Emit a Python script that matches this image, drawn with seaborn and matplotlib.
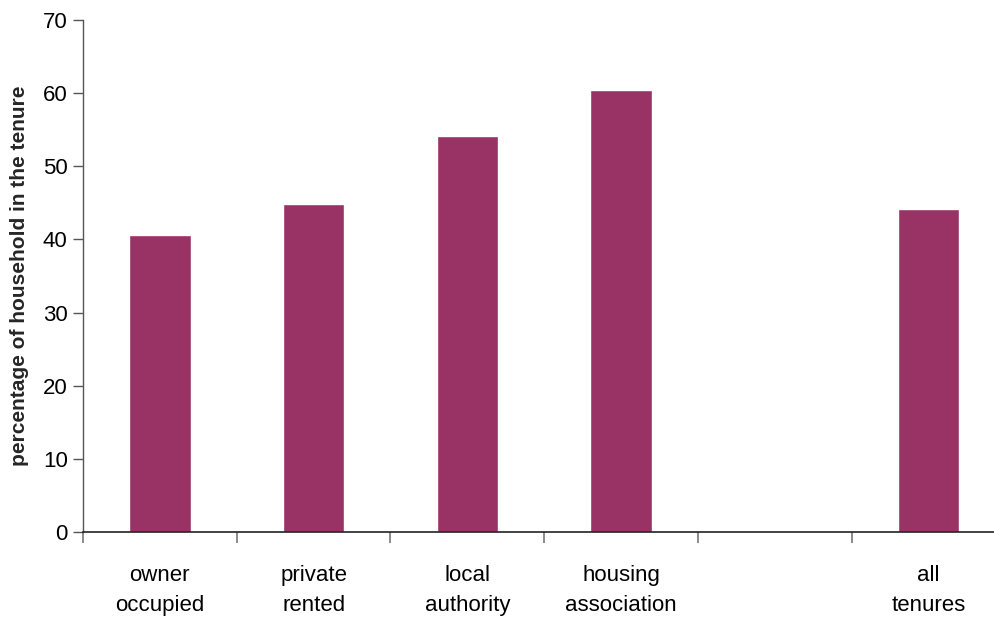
import numpy as np
import pandas as pd
import seaborn as sns
import matplotlib.pyplot as plt
from matplotlib.ticker import FixedLocator

sns.set_style('white')
plt.rcParams['font.family'] = ['Liberation Sans Narrow', 'Liberation Sans', 'DejaVu Sans']

tenures = ['owner\noccupied', 'private\nrented', 'local\nauthority', 'housing\nassociation', ' ', 'all\ntenures']
percent = [40.6, 44.8, 54.1, 60.4, np.nan, 44.2]

df = pd.DataFrame({'tenure': tenures, 'pct': percent})

fig = plt.figure(figsize=(9.95, 6.19), dpi=100)
ax = fig.add_axes([0.0834, 0.1405, 0.927, 0.8272])

sns.barplot(data=df, x='tenure', y='pct', order=tenures, color='#993366',
            saturation=1, width=0.4, ax=ax)

ax.set_xlim(-0.5, 5.5)
ax.set_ylim(0, 70)
ax.set_yticks(range(0, 71, 10))
ax.set_xlabel('')
ax.set_ylabel('percentage of household in the tenure', fontsize=15, fontweight='bold', labelpad=10)

# boundary ticks between categories, labels centred under bars
ax.xaxis.set_minor_locator(FixedLocator(np.arange(-0.5, 5.6, 1)))
ax.tick_params(axis='x', which='major', length=0, labelsize=16, pad=24)
ax.tick_params(axis='x', which='minor', length=8, width=1.2, color='#777777', direction='out')
ax.tick_params(axis='y', length=7, width=1, color='#555555', direction='out', labelsize=16, pad=4)
ax.tick_params(bottom=True, left=True, which='both')
ax.tick_params(axis='x', which='major', length=0)
for lab in ax.get_xticklabels():
    lab.set_linespacing(1.55)
    lab.set_color('black')
for lab in ax.get_yticklabels():
    lab.set_color('black')

for s in ['top', 'right']:
    ax.spines[s].set_visible(False)
ax.spines['left'].set_color('#555555')
ax.spines['bottom'].set_color('#222222')
ax.spines['left'].set_linewidth(1)
ax.spines['bottom'].set_linewidth(1.2)

fig.savefig('out.png', dpi=100)
